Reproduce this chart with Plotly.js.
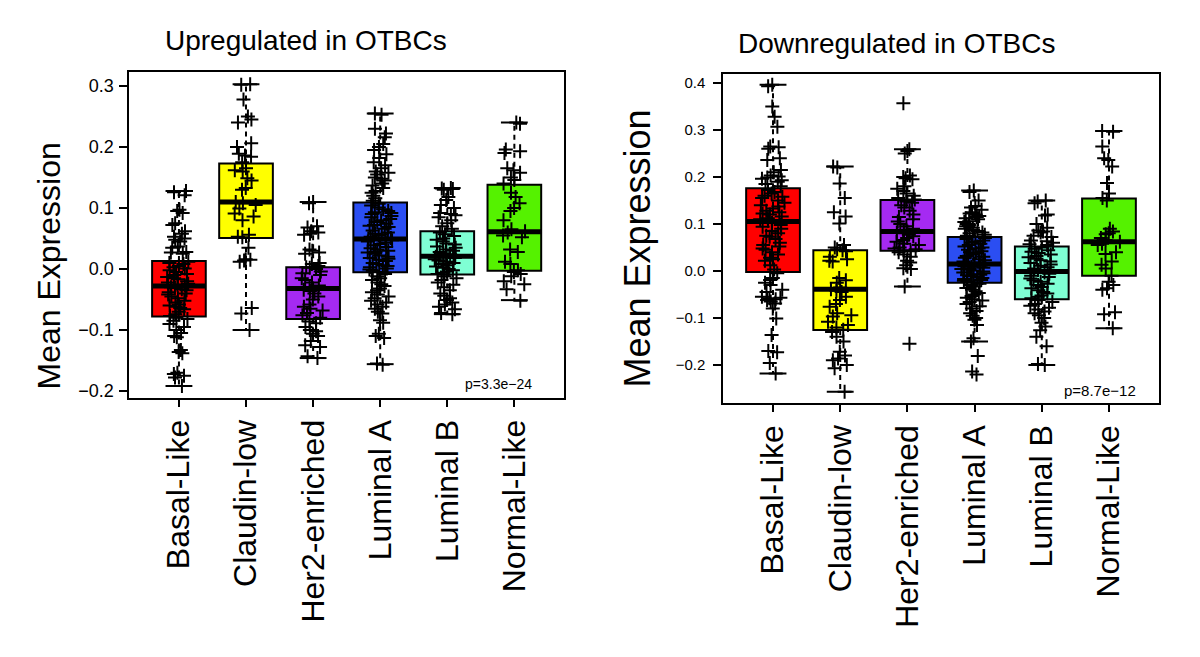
<!DOCTYPE html>
<html>
<head>
<meta charset="utf-8">
<script src="https://cdn.plot.ly/plotly-3.0.1.min.js"></script>
<style>html,body{margin:0;padding:0;background:#fff;}#chart{width:1200px;height:657px;}</style>
</head>
<body>
<div id="chart"></div>
<script>
// ---------- DATA ----------
const categories = ['Basal-Like', 'Claudin-low', 'Her2-enriched', 'Luminal A', 'Luminal B', 'Normal-Like'];
const boxColors = ['#FF0000', '#FFFF00', '#A52AF2', '#2B4EF2', '#7FFFD4', '#55F200'];

// Upregulated panel: box statistics
const upQ1 = [-0.078, 0.051, -0.082, -0.0055, -0.009, -0.003];
const upMedian = [-0.028, 0.110, -0.032, 0.049, 0.021, 0.061];
const upQ3 = [0.013, 0.173, 0.003, 0.109, 0.062, 0.138];
const upLowerWhisker = [-0.192, -0.100, -0.146, -0.156, -0.074, -0.051];
const upUpperWhisker = [0.128, 0.303, 0.110, 0.255, 0.133, 0.240];

// Upregulated panel: sample points
const upBasal = [0.128, 0.126, 0.121, 0.097, 0.095, 0.092, 0.075, 0.072, 0.062, 0.058, 0.053, 0.050, 0.048, 0.045, 0.037, 0.035, 0.028, 0.027, 0.025,
  0.012, 0.010, 0.008, 0.005, 0.003, 0.001, -0.002, -0.005, -0.008, -0.010, -0.013, -0.015, -0.017, -0.020, -0.022, -0.024, -0.026, -0.027,
  -0.030, -0.031, -0.033, -0.035, -0.038, -0.040, -0.042, -0.045, -0.048, -0.052, -0.055, -0.058, -0.060, -0.062, -0.064, -0.066, -0.070, -0.074, -0.077,
  -0.080, -0.082, -0.085, -0.090, -0.095, -0.100, -0.105, -0.110, -0.112, -0.133, -0.136, -0.138, -0.170, -0.172, -0.175, -0.178, -0.192];
const upClaudin = [0.303, 0.302, 0.278, 0.250, 0.245, 0.240, 0.206, 0.200, 0.189, 0.186, 0.184, 0.175, 0.165, 0.162, 0.160, 0.149, 0.145, 0.133, 0.130,
  0.110, 0.108, 0.105, 0.099, 0.091, 0.086, 0.080, 0.056, 0.053, 0.052, 0.035, 0.016, 0.014, 0.012, 0.015, -0.064, -0.073, -0.100];
const upHer2 = [0.110, 0.108, 0.070, 0.068, 0.060, 0.058, 0.056, 0.062, 0.032, 0.030, 0.027, 0.025, 0.010, 0.008, 0.005, 0.003, 0.002, 0.000, -0.004,
  -0.007, -0.010, -0.015, -0.018, -0.022, -0.027, -0.030, -0.032, -0.034, -0.036, -0.040, -0.045, -0.050, -0.058, -0.062, -0.065, -0.068, -0.072,
  -0.076, -0.080, -0.086, -0.089, -0.095, -0.100, -0.102, -0.106, -0.110, -0.118, -0.125, -0.128, -0.143, -0.146];
const upLumA = [0.255, 0.253, 0.230, 0.222, 0.216, 0.205, 0.200, 0.195, 0.188, 0.182, 0.175, 0.170, 0.165, 0.160, 0.158, 0.155, 0.150, 0.148, 0.145,
  0.140, 0.137, 0.133, 0.128, 0.125, 0.120, 0.116, 0.112,
  0.107, 0.104, 0.101, 0.098, 0.095, 0.093, 0.092, 0.090, 0.087, 0.085, 0.082, 0.080, 0.077, 0.074, 0.072, 0.071, 0.069, 0.066, 0.063, 0.060, 0.058,
  0.057, 0.055, 0.053, 0.051, 0.050, 0.049,
  0.047, 0.045, 0.043, 0.041, 0.039, 0.036, 0.034, 0.032, 0.030, 0.028, 0.027, 0.025, 0.022, 0.020, 0.018, 0.017, 0.015, 0.013, 0.010, 0.008, 0.006,
  0.005, 0.003, 0.001, -0.001, -0.003, -0.005,
  -0.008, -0.012, -0.015, -0.018, -0.022, -0.025, -0.028, -0.032, -0.035, -0.038, -0.042, -0.045, -0.048, -0.052, -0.055, -0.058, -0.062, -0.065,
  -0.070, -0.073, -0.084, -0.088, -0.106, -0.110, -0.113, -0.155, -0.157];
const upLumB = [0.133, 0.132, 0.131, 0.130, 0.118, 0.113, 0.105, 0.100, 0.092, 0.090, 0.088, 0.085, 0.080, 0.075, 0.070, 0.066,
  0.060, 0.057, 0.054, 0.050, 0.048, 0.045, 0.042, 0.040, 0.037, 0.035, 0.032, 0.030, 0.028, 0.026, 0.024, 0.022,
  0.020, 0.018, 0.016, 0.014, 0.012, 0.010, 0.008, 0.006, 0.004, 0.002, 0.000, -0.002, -0.004, -0.006, -0.008,
  -0.012, -0.015, -0.018, -0.022, -0.026, -0.030, -0.035, -0.040, -0.044, -0.048, -0.051, -0.055, -0.058, -0.062, -0.066, -0.072, -0.074];
const upNormal = [0.240, 0.238, 0.196, 0.193, 0.190, 0.165, 0.162, 0.158, 0.150, 0.146, 0.140, 0.125, 0.118, 0.108, 0.100, 0.095, 0.080, 0.065,
  0.062, 0.060, 0.055, 0.052, 0.032, 0.028, 0.012, 0.008, -0.002, -0.005, -0.008, -0.012, -0.020, -0.025, -0.033, -0.052];

// Downregulated panel: box statistics
const downQ1 = [-0.002, -0.1255, 0.043, -0.025, -0.060, -0.010];
const downMedian = [0.105, -0.039, 0.084, 0.015, -0.001, 0.062];
const downQ3 = [0.176, 0.044, 0.151, 0.072, 0.052, 0.154];
const downLowerWhisker = [-0.218, -0.257, -0.033, -0.150, -0.200, -0.122];
const downUpperWhisker = [0.396, 0.222, 0.259, 0.171, 0.150, 0.298];

// Downregulated panel: sample points
const downBasal = [0.396, 0.393, 0.350, 0.328, 0.307, 0.265, 0.263, 0.260, 0.240, 0.236, 0.215, 0.210, 0.203, 0.201, 0.199, 0.196, 0.193, 0.190, 0.185, 0.180,
  0.172, 0.168, 0.165, 0.160, 0.158, 0.155, 0.150, 0.145, 0.140, 0.137, 0.133, 0.128, 0.125, 0.122, 0.120, 0.116, 0.112, 0.110, 0.107,
  0.102, 0.098, 0.094, 0.090, 0.085, 0.080, 0.075, 0.073, 0.068, 0.060, 0.055, 0.052, 0.048, 0.045, 0.040, 0.035, 0.028, 0.025, 0.022, 0.012, 0.003,
  -0.005, -0.015, -0.019, -0.025, -0.030, -0.040, -0.045, -0.055, -0.057, -0.058, -0.060, -0.062, -0.065, -0.069, -0.080, -0.101, -0.136, -0.170, -0.173, -0.196, -0.218];
const downClaudin = [0.222, 0.220, 0.186, 0.155, 0.125, 0.116, 0.101, 0.055, 0.050, 0.046, 0.044, 0.042, 0.030, 0.025, 0.022, 0.020, -0.015, -0.020,
  -0.025, -0.035, -0.039, -0.042, -0.045, -0.055, -0.062, -0.070, -0.076, -0.090, -0.094, -0.097, -0.108, -0.115, -0.120, -0.125, -0.130, -0.140,
  -0.150, -0.172, -0.180, -0.186, -0.190, -0.200, -0.207, -0.257];
const downHer2 = [0.357, 0.259, 0.255, 0.250, 0.203, 0.200, 0.197, 0.195, 0.180, 0.175, 0.170, 0.165, 0.160, 0.155, 0.152, 0.148, 0.145, 0.140, 0.135,
  0.128, 0.120, 0.115, 0.110, 0.105, 0.100, 0.095, 0.090, 0.087, 0.084, 0.082, 0.080, 0.077, 0.074, 0.070, 0.066, 0.062, 0.058, 0.055, 0.050, 0.048,
  0.046, 0.044, 0.042, 0.040, 0.035, 0.030, 0.022, 0.018, 0.012, 0.006, 0.004, -0.033, -0.155];
const downLumA = [0.171, 0.168, 0.150, 0.138, 0.135, 0.130, 0.125, 0.122, 0.120, 0.117, 0.115, 0.112, 0.110, 0.106, 0.104, 0.100, 0.098, 0.095, 0.092,
  0.090, 0.087, 0.085, 0.082, 0.080, 0.077, 0.075,
  0.070, 0.068, 0.065, 0.063, 0.060, 0.058, 0.055, 0.052, 0.050, 0.048, 0.045, 0.042, 0.040, 0.038, 0.035, 0.032, 0.030, 0.028, 0.025, 0.023, 0.020,
  0.018, 0.016,
  0.013, 0.011, 0.010, 0.009, 0.007, 0.005, 0.004, 0.003, 0.001, -0.001, -0.003, -0.005, -0.007, -0.008, -0.009, -0.011, -0.013, -0.015, -0.017,
  -0.019, -0.021, -0.023, -0.024,
  -0.027, -0.030, -0.033, -0.036, -0.040, -0.043, -0.047, -0.050, -0.053, -0.057, -0.060, -0.063, -0.066, -0.070, -0.075, -0.080, -0.085, -0.090,
  -0.095, -0.100, -0.104, -0.115, -0.143, -0.150, -0.181, -0.214, -0.220];
const downLumB = [0.150, 0.148, 0.144, 0.120, 0.118, 0.100, 0.092, 0.086, 0.084, 0.082, 0.075, 0.072, 0.065, 0.063, 0.060, 0.057, 0.055,
  0.050, 0.047, 0.044, 0.041, 0.038, 0.035, 0.032, 0.029, 0.026, 0.023, 0.020, 0.017, 0.014, 0.011, 0.008, 0.005, 0.002,
  -0.003, -0.006, -0.010, -0.013, -0.016, -0.020, -0.023, -0.027, -0.030, -0.034, -0.037, -0.041, -0.045, -0.048, -0.052, -0.055, -0.058,
  -0.062, -0.066, -0.070, -0.074, -0.078, -0.082, -0.086, -0.090, -0.094, -0.100, -0.110, -0.118, -0.126, -0.140, -0.160, -0.198, -0.200];
const downNormal = [0.298, 0.296, 0.265, 0.240, 0.236, 0.222, 0.187, 0.165, 0.155, 0.150, 0.090, 0.084, 0.080, 0.078, 0.070, 0.066, 0.062, 0.058,
  0.055, 0.040, 0.036, 0.020, 0.013, 0.005, -0.010, -0.023, -0.030, -0.037, -0.040, -0.088, -0.092, -0.122];

const upPoints = [upBasal, upClaudin, upHer2, upLumA, upLumB, upNormal];
const downPoints = [downBasal, downClaudin, downHer2, downLumA, downLumB, downNormal];

const panelTitles = ['Upregulated in OTBCs', 'Downregulated in OTBCs'];
const yTitle = 'Mean Expression';
const pValues = ['p=3.3e\u221224', 'p=8.7e\u221212'];
const upTicks = [-0.2, -0.1, 0.0, 0.1, 0.2, 0.3];
const downTicks = [-0.2, -0.1, 0.0, 0.1, 0.2, 0.3, 0.4];

// ---------- BUILD ----------
const FONT = 'Liberation Sans, Arial, Helvetica, sans-serif';
const W = 1200, H = 657;
const positions = categories.map((c, i) => i + 1);
const BOXW = 0.8, CAPW = 0.4;

function panelTraces(q1, med, q3, lo, hi, pts, xa, ya) {
  const traces = [];
  const wx = [], wy = [];
  const cx = [], cy = [];
  const mx = [], my = [];
  positions.forEach((p, i) => {
    wx.push(p, p, null, p, p, null);
    wy.push(q3[i], hi[i], null, q1[i], lo[i], null);
    cx.push(p - CAPW / 2, p + CAPW / 2, null, p - CAPW / 2, p + CAPW / 2, null);
    cy.push(hi[i], hi[i], null, lo[i], lo[i], null);
    mx.push(p - BOXW / 2, p + BOXW / 2, null);
    my.push(med[i], med[i], null);
  });
  // boxes
  positions.forEach((p, i) => {
    traces.push({
      type: 'box', xaxis: xa, yaxis: ya, x: [p],
      q1: [q1[i]], median: [med[i]], q3: [q3[i]], lowerfence: [q1[i]], upperfence: [q3[i]],
      width: BOXW, fillcolor: boxColors[i], line: {color: '#000', width: 2}, whiskerwidth: 0,
      boxpoints: false, hoverinfo: 'skip', showlegend: false
    });
  });
  // points with library jitter
  positions.forEach((p, i) => {
    traces.push({
      type: 'box', xaxis: xa, yaxis: ya, y: pts[i], x0: p,
      width: BOXW, boxpoints: 'all', jitter: 0.5, pointpos: 0,
      fillcolor: 'rgba(0,0,0,0)', line: {color: 'rgba(0,0,0,0)', width: 0}, whiskerwidth: 0,
      marker: {symbol: 'cross-thin-open', size: 10, color: '#000', line: {color: '#000', width: 2}},
      hoverinfo: 'skip', showlegend: false
    });
  });
  traces.push({type: 'scatter', mode: 'lines', xaxis: xa, yaxis: ya, x: wx, y: wy,
    line: {color: '#000', width: 2, dash: '5px,4px'}, hoverinfo: 'skip', showlegend: false});
  traces.push({type: 'scatter', mode: 'lines', xaxis: xa, yaxis: ya, x: cx, y: cy,
    line: {color: '#000', width: 2}, hoverinfo: 'skip', showlegend: false});
  traces.push({type: 'scatter', mode: 'lines', xaxis: xa, yaxis: ya, x: mx, y: my,
    line: {color: '#000', width: 5}, hoverinfo: 'skip', showlegend: false});
  return traces;
}

const data = [].concat(
  panelTraces(upQ1, upMedian, upQ3, upLowerWhisker, upUpperWhisker, upPoints, 'x', 'y'),
  panelTraces(downQ1, downMedian, downQ3, downLowerWhisker, downUpperWhisker, downPoints, 'x2', 'y2')
);

const px = v => v / W;
const py = v => 1 - v / H;

function xAxis(domain, fontSize, anchor, standoff) {
  return {
    domain: domain, anchor: anchor, range: [0.26, 6.74], tickvals: positions, ticktext: categories,
    tickangle: -90, ticks: 'outside', ticklen: 7, tickwidth: 2, tickcolor: '#000',
    tickfont: {family: FONT, size: fontSize, color: '#000'}, ticklabelstandoff: standoff,
    showline: true, mirror: true, linecolor: '#000', linewidth: 2, showgrid: false, zeroline: false, fixedrange: true
  };
}
function yAxis(domain, range, ticks, fontSize, anchor, standoff) {
  return {
    domain: domain, anchor: anchor, range: range, tickvals: ticks, tickformat: '.1f',
    ticks: 'outside', ticklen: 8, tickwidth: 2, tickcolor: '#000',
    tickfont: {family: FONT, size: fontSize, color: '#000'}, ticklabelstandoff: standoff,
    showline: true, mirror: true, linecolor: '#000', linewidth: 2, showgrid: false, zeroline: false, fixedrange: true
  };
}

const layout = {
  width: W, height: H,
  margin: {l: 0, r: 0, t: 0, b: 0},
  paper_bgcolor: '#fff', plot_bgcolor: '#fff',
  showlegend: false, boxmode: 'overlay',
  font: {family: FONT, color: '#000'},
  xaxis: xAxis([px(129.3), px(564)], 32, 'y', 0),
  yaxis: yAxis([py(398), py(72)], [-0.2115, 0.323], upTicks, 18, 'x', 2),
  xaxis2: xAxis([px(723.3), px(1158.7)], 32, 'y2', 0),
  yaxis2: yAxis([py(403.3), py(74)], [-0.2815, 0.419], downTicks, 15, 'x2', 5),
  annotations: [
    {text: panelTitles[0], xref: 'paper', yref: 'paper', x: px(305.5), y: py(40.5), xanchor: 'center', yanchor: 'middle',
      showarrow: false, font: {family: FONT, size: 28, color: '#000'}},
    {text: panelTitles[1], xref: 'paper', yref: 'paper', x: px(896.5), y: py(43.5), xanchor: 'center', yanchor: 'middle',
      showarrow: false, font: {family: FONT, size: 28, color: '#000'}},
    {text: yTitle, xref: 'paper', yref: 'paper', x: px(48.5), y: py(266), xanchor: 'center', yanchor: 'middle', textangle: -90,
      showarrow: false, font: {family: FONT, size: 32, color: '#000'}},
    {text: yTitle, xref: 'paper', yref: 'paper', x: px(636.5), y: py(249), xanchor: 'center', yanchor: 'middle', textangle: -90,
      showarrow: false, font: {family: FONT, size: 36, color: '#000'}},
    {text: pValues[0], xref: 'paper', yref: 'paper', x: px(534), y: py(383.5), xanchor: 'right', yanchor: 'middle',
      showarrow: false, font: {family: FONT, size: 14, color: '#000'}},
    {text: pValues[1], xref: 'paper', yref: 'paper', x: px(1137.5), y: py(390.5), xanchor: 'right', yanchor: 'middle',
      showarrow: false, font: {family: FONT, size: 15, color: '#000'}}
  ]
};

Plotly.newPlot('chart', data, layout, {staticPlot: true, displayModeBar: false});
</script>
</body>
</html>
